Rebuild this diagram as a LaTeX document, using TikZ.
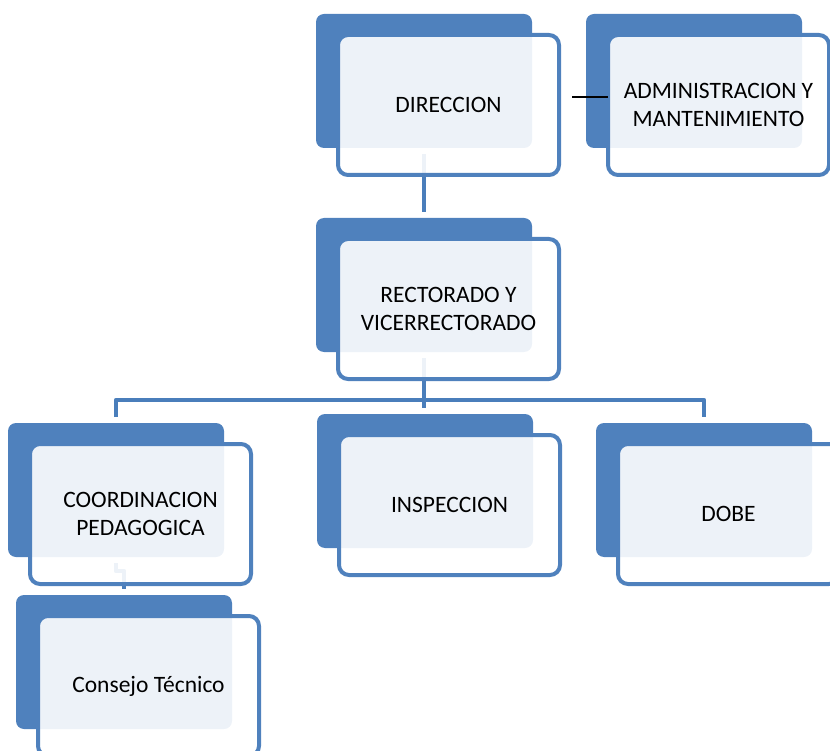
\documentclass[tikz,border=0pt]{standalone}
\usepackage{fontspec}
\setmainfont{Carlito}
\usetikzlibrary{calc}
\definecolor{boxblue}{HTML}{4F81BD}
\definecolor{linkblue}{HTML}{4A7EBB}
\tikzset{
  backbox/.style={fill=boxblue, draw=none, rounded corners=8pt, outer sep=0pt,
    minimum width=216pt, minimum height=134pt, anchor=north west, inner sep=0pt},
  frontbox/.style={fill=white, fill opacity=0.9, text opacity=1, draw=boxblue, line width=4pt,
    rounded corners=10pt, outer sep=0pt, minimum width=221pt, minimum height=140pt,
    anchor=north west, align=center, inner sep=0pt,
    font=\fontsize{23.5}{28}\selectfont},
  conn/.style={draw=linkblue, line width=4.5pt, line join=round, shorten <=6pt, shorten >=6pt},
  sideline/.style={draw=black, line width=1.4pt}
}
\begin{document}
\begin{tikzpicture}[x=1pt,y=-1pt]
\useasboundingbox (0,0) rectangle (830,751);
% back boxes
\node[backbox] (dirB) at (316,14) {};
\node[backbox] (admB) at (586,14) {};
\node[backbox] (recB) at (316,218) {};
\node[backbox] (coordB) at (8,423) {};
\node[backbox] (inspB) at (317,414) {};
\node[backbox] (dobeB) at (596,423) {};
\node[backbox] (consB) at (16,595) {};
% connectors
\coordinate (bus) at (424,400);
\draw[conn] (dirB.south) -- (recB.north);
\draw[conn] (recB.south) -- (recB.south |- inspB.north);
\draw[conn] (coordB.north) |- (bus) -| (dobeB.north);
\draw[conn] (coordB.south) -- ++(0,14) -| (consB.north);
% front boxes
\node[frontbox] (dir) at (338,35) {DIRECCION};
\node[frontbox] (adm) at (608,35) {ADMINISTRACION Y\\MANTENIMIENTO};
\node[frontbox] (rec) at (338,239) {RECTORADO Y\\VICERRECTORADO};
\node[frontbox] (coord) at (30,444) {COORDINACION\\PEDAGOGICA};
\node[frontbox] (insp) at (339,435) {INSPECCION};
\node[frontbox] (dobe) at (618,444) {DOBE};
\node[frontbox] (cons) at (38,616) {Consejo Técnico};
% side link
\coordinate (a1) at ($(dir.east)+(13,-8)$);
\draw[sideline] (a1) -- (a1 -| adm.west);
\end{tikzpicture}
\end{document}
